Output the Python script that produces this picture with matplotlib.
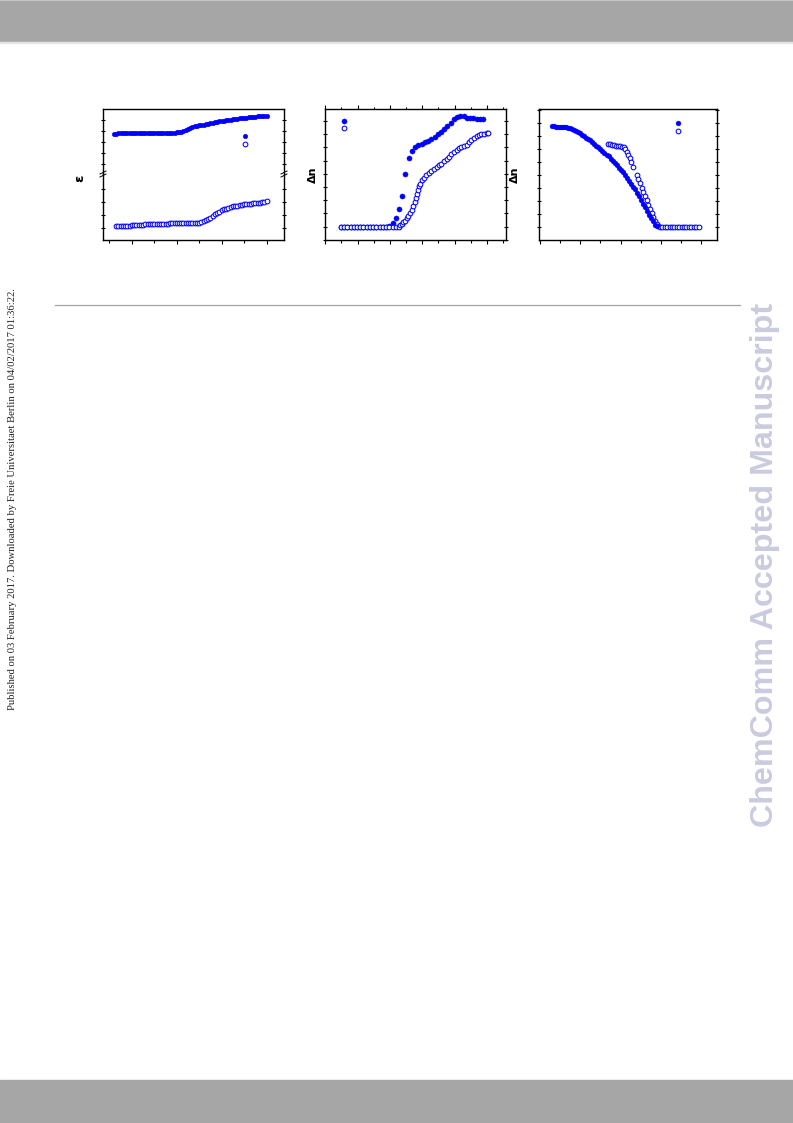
import numpy as np
import matplotlib
matplotlib.use("Agg")
import matplotlib.pyplot as plt
from matplotlib.lines import Line2D
from matplotlib.patches import Rectangle
from matplotlib.ticker import MultipleLocator, FixedLocator

# ---- panel 1: permittivity (broken y axis) ----
eps_par_T0, eps_par_dT = 32.0, 1.0
eps_par = [18.77, 18.77, 18.78, 18.78, 18.78, 18.79, 18.79, 18.79, 18.79, 18.80,
           18.80, 18.80, 18.80, 18.80, 18.81, 18.81, 18.81, 18.81, 18.82, 18.82,
           18.82, 18.83, 18.83, 18.84, 18.84, 18.85, 18.85, 18.86, 18.88, 18.90,
           18.95, 19.01, 19.10, 19.19, 19.27, 19.34, 19.41, 19.46, 19.51, 19.55,
           19.59, 19.63, 19.67, 19.70, 19.74, 19.78, 19.83, 19.87, 19.91, 19.94,
           19.97, 20.00, 20.03, 20.06, 20.09, 20.12, 20.14, 20.17, 20.20, 20.22,
           20.24, 20.27, 20.29, 20.31, 20.33, 20.35, 20.37, 20.38, 20.39]
eps_perp_T0, eps_perp_dT = 33.0, 1.0
eps_perp = [4.13, 4.14, 4.15, 4.16, 4.17, 4.18, 4.19, 4.20, 4.21, 4.22,
            4.23, 4.24, 4.26, 4.27, 4.28, 4.29, 4.29, 4.30, 4.31, 4.32,
            4.32, 4.33, 4.34, 4.34, 4.35, 4.35, 4.36, 4.37, 4.37, 4.37,
            4.38, 4.38, 4.38, 4.38, 4.39, 4.40, 4.41, 4.42, 4.45, 4.52,
            4.61, 4.70, 4.79, 4.91, 5.04, 5.15, 5.26, 5.35, 5.43, 5.50,
            5.57, 5.63, 5.66, 5.69, 5.73, 5.76, 5.79, 5.81, 5.83, 5.85,
            5.87, 5.89, 5.91, 5.93, 5.96, 5.99, 6.02, 6.05]

# ---- panel 2: birefringence, heating ----
dn2_fill_T0, dn2_fill_dT = 34.8, 1.0
dn2_fill = [0.000] * 15 + [0.001, 0.006, 0.013, 0.027, 0.046, 0.080, 0.104, 0.115,
            0.120, 0.123, 0.125, 0.128, 0.130, 0.133, 0.136, 0.140, 0.144, 0.148,
            0.153, 0.157, 0.163, 0.166, 0.167, 0.167, 0.165, 0.164, 0.164, 0.163,
            0.163, 0.163]
dn2_open_T = [34.8, 35.8, 36.8, 37.8, 38.8, 39.8, 40.8, 41.8, 42.8, 43.8,
              44.8, 45.8, 46.8, 47.8, 48.8, 49.8, 50.8, 51.8, 52.8,
              53.1, 53.6, 54.1, 54.6, 55.2, 55.7, 56.2, 56.7, 57.2, 57.6,
              58.0, 58.4, 58.8, 59.1, 59.4, 59.9, 60.5, 61.3, 62.1, 62.8,
              63.6, 64.4, 65.2, 65.9, 66.7, 67.5, 68.3, 69.0, 69.8, 70.6,
              71.4, 72.1, 72.9, 73.7, 74.5, 75.2, 76.0, 76.8, 77.6, 78.3,
              79.1, 79.9, 80.3]
dn2_open = [0.0] * 19 + [0.0026, 0.0036, 0.0064, 0.0089, 0.0124, 0.0162, 0.0200,
            0.0253, 0.0314, 0.0374, 0.0435, 0.0488, 0.0556, 0.0609, 0.0654, 0.0700,
            0.0738, 0.0776, 0.0809, 0.0844, 0.0870, 0.0897, 0.0927, 0.0957, 0.0992,
            0.1026, 0.1063, 0.1101, 0.1132, 0.1162, 0.1185, 0.1200, 0.1218, 0.1245,
            0.1279, 0.1314, 0.1344, 0.1367, 0.1389, 0.1401, 0.1407, 0.1412, 0.1415]

# ---- panel 3: birefringence, second compound ----
dn3_fill_T0, dn3_fill_dT = 33.0, 0.5
dn3_fill = [0.1548, 0.1548, 0.1547, 0.1546, 0.1545, 0.1543, 0.1540, 0.1535, 0.1528,
            0.1520, 0.1509, 0.1496, 0.1485, 0.1466, 0.1450, 0.1424, 0.1400, 0.1378,
            0.1357, 0.1335, 0.1306, 0.1278, 0.1252, 0.1229, 0.1203, 0.1176, 0.1148,
            0.1118, 0.1088, 0.1056, 0.1022, 0.0985, 0.0950, 0.0912, 0.0875, 0.0845,
            0.0812, 0.0765, 0.0718, 0.0672, 0.0622, 0.0585, 0.0530, 0.0478, 0.0422,
            0.0365, 0.0307, 0.0253, 0.0197, 0.0145, 0.0093, 0.0045, 0.0015]
dn3_open_T = [46.84, 47.34, 47.84, 48.33, 48.83, 49.33, 49.83, 50.32, 50.82,
              51.19, 51.57, 51.94, 52.31, 52.69, 53.11, 53.98, 54.38, 54.80,
              55.22, 55.62, 56.04, 56.47, 56.87, 57.29, 57.71, 58.11, 58.53,
              58.96, 59.35, 59.78, 60.4, 61.0, 61.6, 62.2, 62.8, 63.4, 64.0,
              64.6, 65.2, 65.8, 66.4, 67.0, 67.6, 68.2, 68.8, 69.4]
dn3_open = [0.1277, 0.1272, 0.1268, 0.1262, 0.1256, 0.1249, 0.1242, 0.1236, 0.1229,
            0.1196, 0.1150, 0.1104, 0.1058, 0.1000, 0.0932, 0.0805, 0.0740, 0.0675,
            0.0609, 0.0549, 0.0480, 0.0414, 0.0345, 0.0276, 0.0218, 0.0158, 0.0104,
            0.0057, 0.0023, 0.0003] + [0.0] * 16

page_note = ("Published on 03 February 2017. Downloaded by Freie Universitaet Berlin "
             "on 04/02/2017 01:36:22.")
watermark = "ChemComm Accepted Manuscript"

W, H = 793, 1123
fig = plt.figure(figsize=(W / 100, H / 100), dpi=100)


def box(x0, y0, x1, y1):
    # pixel box (top-left origin) -> figure fraction rect
    return [x0 / W, 1 - y1 / H, (x1 - x0) / W, (y1 - y0) / H]


def grid(t0, dt, vals):
    return t0 + dt * np.arange(len(vals))


blue = "#0000ff"
tick_kw = dict(width=0.8, colors="k", labelleft=False, labelbottom=False,
               labelright=False, labeltop=False)

# page furniture
fig.patches.append(Rectangle((0, 1 - 1 / H), 1, 1 / H, transform=fig.transFigure,
                             color="#cfcfcf", zorder=0))
fig.patches.append(Rectangle((0, 1 - 42 / H), 1, 41 / H, transform=fig.transFigure,
                             color="#a6a6a6", zorder=0))
fig.patches.append(Rectangle((0, 1 - 43 / H), 1, 1 / H, transform=fig.transFigure,
                             color="#e4e4e4", zorder=0))
fig.patches.append(Rectangle((0, 0), 1, 43 / H, transform=fig.transFigure,
                             color="#a6a6a6", zorder=0))
fig.lines.append(Line2D([55 / W, 740 / W], [1 - 305 / H] * 2, transform=fig.transFigure,
                        color="#a3a3a3", lw=0.9))
fig.text(13 / W, 1 - 499 / H, page_note, rotation=90, ha="center", va="center",
         family="Liberation Serif", fontsize=7.65, color="#222222")
fig.text(765 / W, 1 - 565 / H, watermark, rotation=90, ha="center", va="center",
         family="Liberation Sans", fontweight="bold", fontsize=23.2, color="#cbcbe0")

# ---- panel 1 ----
ax1t = fig.add_axes(box(103, 109, 284, 174))
ax1b = fig.add_axes(box(103, 174, 284, 240), sharex=ax1t)
ax1t.plot(grid(eps_par_T0, eps_par_dT, eps_par), eps_par, "o", color=blue, ms=3.3,
          mew=0.3)
ax1b.plot(grid(eps_perp_T0, eps_perp_dT, eps_perp), eps_perp, "o", mfc="white",
          mec=blue, ms=3.4, mew=0.75)
ax1t.set_ylim(15.09, 21.0)
ax1b.set_ylim(3.077, 8.154)
ax1t.set_xlim(27.2, 107.7)
ax1t.yaxis.set_major_locator(FixedLocator([16, 17, 18, 19, 20]))
ax1b.yaxis.set_major_locator(FixedLocator([4, 5, 6, 7]))
ax1b.xaxis.set_major_locator(MultipleLocator(20))
ax1b.xaxis.set_minor_locator(MultipleLocator(10))
ax1t.spines["bottom"].set_visible(False)
ax1b.spines["top"].set_visible(False)
ax1t.tick_params(axis="x", which="both", bottom=False, top=False)
ax1b.tick_params(axis="x", which="both", top=False, direction="out")
ax1b.tick_params(axis="x", which="major", length=3.2, **tick_kw)
ax1b.tick_params(axis="x", which="minor", length=1.8, **tick_kw)
for a in (ax1t, ax1b):
    a.tick_params(axis="y", which="both", left=True, right=True, direction="inout",
                  length=3, **tick_kw)
    for s in a.spines.values():
        s.set_linewidth(1.0)
# axis-break marks on both spines
for xb in (103, 284):
    for dy in (-1.5, 1.5):
        fig.lines.append(Line2D([(xb - 3) / W, (xb + 3) / W],
                                [1 - (174 + dy + 1.5) / H, 1 - (174 + dy - 1.5) / H],
                                transform=fig.transFigure, color="k", lw=0.7))
fig.text(80 / W, 1 - 178 / H, "ε", rotation=90, ha="center", va="center",
         fontsize=9.5, fontweight="bold")
ax1t.legend(handles=ax1t.lines + ax1b.lines, labels=["", ""], loc="center",
            bbox_to_anchor=(0.785, 0.523), frameon=False, fontsize=5, numpoints=1,
            handlelength=1, handletextpad=0, borderpad=0, labelspacing=0.27)

# ---- panel 2 ----
ax2 = fig.add_axes(box(325, 109, 506, 240))
ax2.plot(grid(dn2_fill_T0, dn2_fill_dT, dn2_fill), dn2_fill, "o", color=blue, ms=3.7,
         mew=0.3)
ax2.plot(dn2_open_T, dn2_open, "o", mfc="white", mec=blue, ms=3.4, mew=0.75)
ax2.set_xlim(29.9, 85.9)
ax2.set_ylim(-0.0202, 0.1783)

# ---- panel 3 ----
ax3 = fig.add_axes(box(539, 109, 717, 240))
ax3.plot(dn3_open_T, dn3_open, "o", mfc="white", mec=blue, ms=3.4, mew=0.75)
ax3.plot(grid(dn3_fill_T0, dn3_fill_dT, dn3_fill), dn3_fill, "o", color=blue, ms=3.5,
         mew=0.3)
ax3.set_xlim(29.7, 74.0)
ax3.set_ylim(-0.0192, 0.1816)

for a, top in ((ax2, True), (ax3, False)):
    a.xaxis.set_major_locator(MultipleLocator(10))
    a.xaxis.set_minor_locator(MultipleLocator(5))
    a.yaxis.set_major_locator(MultipleLocator(0.02))
    a.tick_params(axis="x", which="both", bottom=True, top=top, direction="out")
    a.tick_params(axis="x", which="major", length=3.2, **tick_kw)
    a.tick_params(axis="x", which="minor", length=1.8, **tick_kw)
    a.tick_params(axis="y", which="both", left=True, right=True, direction="inout",
                  length=3, **tick_kw)
    for s in a.spines.values():
        s.set_linewidth(1.0)
    a.set_ylabel("Δn", fontsize=8, fontweight="bold")

ax2.yaxis.set_label_coords((318 - 325) / 181, 0.5)
ax3.yaxis.set_label_coords((520 - 539) / 178, 0.5)

ax2.legend(handles=ax2.lines, labels=["", ""], loc="center",
           bbox_to_anchor=(0.104, 0.878), frameon=False, fontsize=5, numpoints=1,
           handlelength=1, handletextpad=0, borderpad=0, labelspacing=0.07)
ax3.legend(handles=[ax3.lines[1], ax3.lines[0]], labels=["", ""], loc="center",
           bbox_to_anchor=(0.779, 0.860), frameon=False, fontsize=5, numpoints=1,
           handlelength=1, handletextpad=0, borderpad=0, labelspacing=0.27)

fig.savefig("out.png", dpi=100)
